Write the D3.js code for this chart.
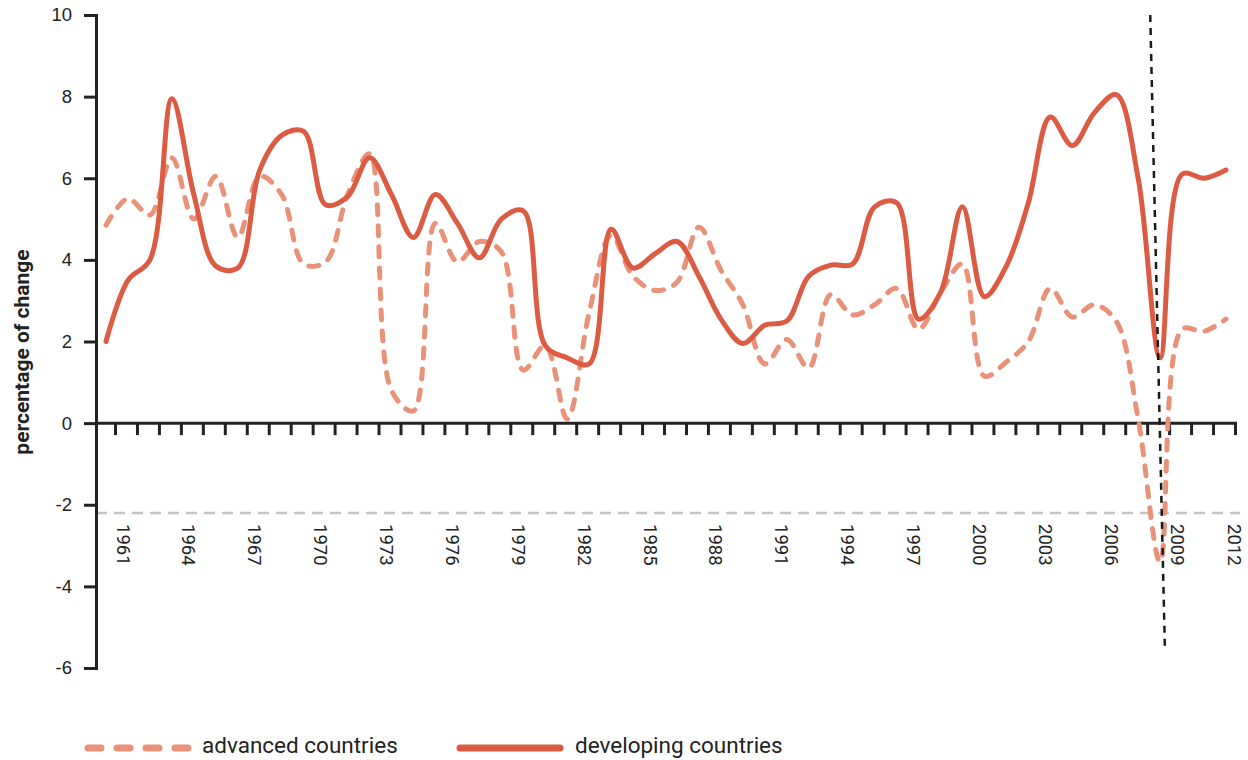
<!DOCTYPE html>
<meta charset="utf-8">
<style>
body { margin: 0; background: #fff; }
svg { font-family: Roboto, "Noto Sans", sans-serif; }
.axis path, .axis line { stroke: #222; stroke-width: 3px; }
.axis text { fill: #222; font-size: 18.5px; }
.legend text { fill: #222; font-size: 22.5px; }
</style>
<body>
<script src="https://d3js.org/d3.v7.min.js"></script>
<script>

// years on the x axis
var years = d3.range(1961, 2013);

// advanced countries, % change (dashed)
var advanced = [4.85, 5.5, 5.1, 6.5, 5.0, 6.05, 4.55, 6.05, 5.6, 3.9,
                3.95, 5.6, 6.6, 0.8, 0.3, 4.9, 3.95, 4.45, 4.2, 1.3,
                1.9, 0.1, 2.7, 4.6, 3.6, 3.25, 3.45, 4.8, 3.75, 2.9,
                1.45, 2.05, 1.35, 3.15, 2.65, 2.9, 3.3, 2.3, 3.2, 3.9,
                1.15, 1.5, 2.0, 3.3, 2.6, 2.9, 2.5, 0.1, -3.4, 2.3,
                2.25, 2.55];

// developing countries, % change (solid)
var developing = [2.0, 3.5, 4.0, 7.95, 5.6, 3.85, 3.8, 6.2, 7.05, 7.15,
                  5.35, 5.55, 6.5, 5.6, 4.55, 5.6, 4.9, 4.05, 5.0, 5.2,
                  1.9, 1.6, 1.45, 4.75, 3.8, 4.15, 4.45, 3.6, 2.55, 1.95,
                  2.4, 2.5, 3.6, 3.87, 3.9, 5.3, 5.4, 2.55, 3.2, 5.3,
                  3.1, 3.85, 5.4, 7.5, 6.8, 7.6, 8.05, 6.0, 1.6, 6.1,
                  6.0, 6.2];

var yTicks = [-6, -4, -2, 0, 2, 4, 6, 8, 10];
var yearLabels = d3.range(1961, 2013, 3);
var refLevel = -2.2;                       // grey dashed reference line
var crisisLine = [[2008.55, 10], [2009.22, -5.6]];  // black dotted marker

var W = 1248, H = 760;

var x = d3.scaleLinear().domain([1961, 2012]).range([106, 1226]);
var y = d3.scaleLinear().domain([-6, 10]).range([668, 15]);
var axisX = 96;

var svg = d3.select("body").append("svg")
    .attr("width", W)
    .attr("height", H);

// grey reference line
svg.append("line")
    .attr("x1", axisX).attr("x2", x(2012) + 14)
    .attr("y1", y(refLevel)).attr("y2", y(refLevel))
    .attr("stroke", "#c4c4c4")
    .attr("stroke-width", 2.5)
    .attr("stroke-dasharray", "11,7");

// y axis
var yAxis = svg.append("g")
    .attr("class", "axis")
    .attr("transform", "translate(" + axisX + ",0)")
    .call(d3.axisLeft(y).tickValues(yTicks).tickSize(12).tickSizeOuter(0).tickPadding(12)
        .tickFormat(function(d) { return String(d); }));
yAxis.select(".domain").attr("stroke-linecap", "square");

// x axis: ticks sit a little to the right of each year's point
var xAxis = svg.append("g")
    .attr("class", "axis")
    .attr("transform", "translate(9," + y(0) + ")")
    .call(d3.axisBottom(x).tickValues(years).tickSize(12).tickSizeOuter(0).tickFormat(""));
xAxis.select(".domain").remove();

svg.append("line")
    .attr("x1", axisX).attr("x2", x(2012) + 11)
    .attr("y1", y(0)).attr("y2", y(0))
    .attr("stroke", "#222")
    .attr("stroke-width", 3);

// year labels, rotated
svg.append("g")
    .attr("class", "axis")
  .selectAll("text")
    .data(yearLabels)
    .enter()
    .append("text")
    .attr("transform", function(d) {
        var cx = Math.min(x(d) + 17, W - 14);
        return "translate(" + cx + ",524) rotate(90)";
    })
    .attr("dy", "0.35em")
    .text(function(d) { return d; });

// y axis title
svg.append("text")
    .attr("transform", "translate(22," + 352 + ") rotate(-90)")
    .attr("text-anchor", "middle")
    .attr("dy", "0.35em")
    .style("font-size", "21px")
    .style("font-weight", "bold")
    .style("fill", "#222")
    .text("percentage of change");

var line = d3.line()
    .x(function(d, i) { return x(years[i]); })
    .y(function(d) { return y(d); })
    .curve(d3.curveCatmullRom.alpha(0.5));

svg.append("path")
    .datum(advanced)
    .attr("fill", "none")
    .attr("stroke", "#e9927a")
    .attr("stroke-width", 5)
    .attr("stroke-linecap", "round")
    .attr("stroke-dasharray", "10,11")
    .attr("d", line);

svg.append("path")
    .datum(developing)
    .attr("fill", "none")
    .attr("stroke", "#db5b43")
    .attr("stroke-width", 5)
    .attr("stroke-linecap", "round")
    .attr("stroke-linejoin", "round")
    .attr("d", line);

// crisis marker
svg.append("line")
    .attr("x1", x(crisisLine[0][0])).attr("y1", y(crisisLine[0][1]))
    .attr("x2", x(crisisLine[1][0])).attr("y2", y(crisisLine[1][1]))
    .attr("stroke", "#1a1a1a")
    .attr("stroke-width", 2.5)
    .attr("stroke-dasharray", "7,6");

// legend
var legend = svg.append("g").attr("class", "legend");
legend.append("line")
    .attr("x1", 88).attr("x2", 188).attr("y1", 748).attr("y2", 748)
    .attr("stroke", "#e9927a").attr("stroke-width", 7)
    .attr("stroke-linecap", "round").attr("stroke-dasharray", "13,16");
legend.append("text").attr("x", 202).attr("y", 752.5)
    .text("advanced countries");
legend.append("line")
    .attr("x1", 460).attr("x2", 560).attr("y1", 748).attr("y2", 748)
    .attr("stroke", "#db5b43").attr("stroke-width", 7)
    .attr("stroke-linecap", "round");
legend.append("text").attr("x", 575).attr("y", 752.5)
    .text("developing countries");

</script>
</body>
